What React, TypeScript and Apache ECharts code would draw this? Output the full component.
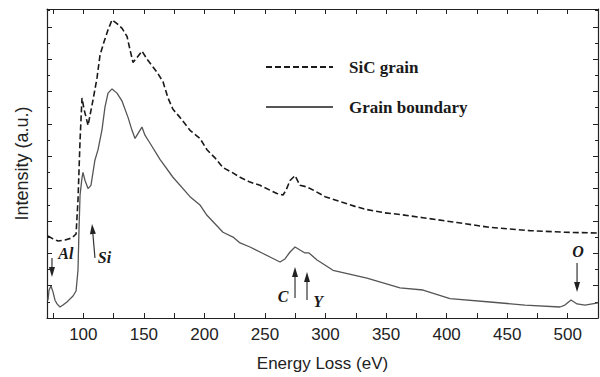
import React, { useEffect, useRef } from "react";
import * as echarts from "echarts";

// SiC grain spectrum (dashed)
const sicEnergy = [70.8, 75.0, 79.1, 84.9, 90.6, 94.0, 95.6, 97.3, 98.9, 100.6, 103.9, 108.0, 111.3, 113.8, 117.1, 120.4, 123.7, 127.8, 132.0, 136.1, 138.5, 141.0, 144.3, 148.4, 152.6, 156.7, 160.8, 165.8, 169.9, 174.0, 179.8, 188.1, 196.3, 202.1, 208.7, 215.3, 222.8, 229.4, 237.6, 245.9, 254.1, 259.9, 264.9, 267.4, 270.7, 274.8, 278.9, 284.7, 291.3, 299.6, 311.9, 324.3, 334.2, 349.1, 361.5, 380.5, 408.6, 435.8, 468.8, 497.7, 525.0];
const sicIntensity = [5.07, 4.89, 4.76, 4.82, 4.95, 5.19, 7.3, 11.0, 13.6, 12.9, 11.9, 13.48, 14.84, 16.26, 17.07, 17.81, 18.43, 18.2, 17.9, 17.4, 16.6, 15.8, 16.1, 16.5, 16.0, 15.6, 15.2, 14.6, 13.6, 12.9, 12.4, 11.6, 11.1, 10.4, 9.9, 9.3, 9.0, 8.7, 8.4, 8.2, 7.9, 7.7, 7.6, 7.9, 8.5, 8.8, 8.2, 8.1, 7.85, 7.5, 7.2, 6.9, 6.7, 6.5, 6.4, 6.2, 5.9, 5.6, 5.4, 5.3, 5.25];

// Grain boundary spectrum (solid)
const gbEnergy = [70.8, 71.7, 73.3, 75.0, 76.6, 78.3, 80.7, 83.2, 86.5, 89.0, 91.5, 94.0, 95.6, 96.4, 97.3, 98.9, 99.7, 101.4, 103.9, 106.3, 109.6, 112.1, 115.4, 117.9, 120.4, 123.7, 127.8, 132.0, 136.9, 140.2, 142.7, 145.1, 148.4, 150.9, 155.1, 163.3, 174.0, 188.1, 196.3, 202.1, 215.3, 223.6, 229.4, 237.6, 247.5, 255.8, 262.4, 266.5, 270.7, 274.8, 278.9, 283.0, 286.3, 293.0, 306.2, 334.2, 361.5, 380.5, 402.8, 435.8, 464.7, 493.6, 497.7, 502.7, 507.7, 514.3, 525.0];
const gbIntensity = [1.1, 1.73, 1.98, 1.6, 1.1, 0.87, 0.68, 0.8, 0.99, 1.18, 1.36, 1.67, 2.97, 5.4, 7.6, 8.66, 9.0, 8.5, 8.0, 8.2, 9.77, 10.39, 11.63, 13.05, 13.9, 14.16, 13.9, 13.4, 12.4, 11.6, 11.1, 11.4, 11.8, 11.3, 10.8, 9.8, 8.7, 7.5, 6.99, 6.35, 5.3, 5.0, 4.64, 4.39, 4.02, 3.71, 3.46, 3.65, 4.08, 4.39, 4.2, 4.02, 4.02, 3.59, 2.95, 2.47, 1.86, 1.73, 1.2, 0.99, 0.8, 0.68, 0.8, 1.11, 0.87, 0.8, 0.93];

const seriesNames = ["SiC grain", "Grain boundary"];
const xTickValues = [75, 100, 125, 150, 175, 200, 225, 250, 275, 300, 325, 350, 375, 400, 425, 450, 475, 500];
const xLabelValues = [100, 150, 200, 250, 300, 350, 400, 450, 500];

// Edge annotations (data coordinates): label position and arrow tail -> tip
const edgeLabels = ["Al", "Si", "C", "Y", "O"];
const labelPos = [[85.5, 4.0], [117.5, 3.77], [264.9, 1.3], [293.8, 0.99], [508.5, 4.08]];
const arrowTail = [[74.1, 3.71], [109.6, 3.71], [274.8, 1.24], [284.7, 1.11], [507.7, 3.4]];
const arrowTip = [[74.1, 2.54], [107.2, 5.81], [274.8, 3.15], [284.7, 2.84], [507.7, 1.61]];

const zip = (a: number[], b: number[]) => a.map((v, i) => [v, b[i]]);

export default function App() {
  const ref = useRef<HTMLDivElement>(null);
  useEffect(() => {
    if (!ref.current) return;
    const chart = echarts.init(ref.current, null, { renderer: "svg" });
    const axisColor = "#222";
    const xCommon = {
      type: "value",
      min: 70,
      max: 525,
      splitLine: { show: false },
      axisLine: { show: true, onZero: false, lineStyle: { color: axisColor, width: 1.2 } },
      axisTick: { show: true, inside: true, length: 5, customValues: xTickValues, lineStyle: { color: axisColor } },
    };
    const yCommon = {
      type: "value",
      min: 0,
      max: 19.1,
      interval: 2,
      splitLine: { show: false },
      axisLabel: { show: false },
      axisLine: { show: true, onZero: false, lineStyle: { color: axisColor, width: 1.2 } },
      axisTick: { show: true, inside: true, length: 5, lineStyle: { color: axisColor } },
      minorTick: { show: true, splitNumber: 2, length: 3, lineStyle: { color: axisColor } },
    };
    chart.setOption({
      animation: false,
      backgroundColor: "#fff",
      grid: { left: 47, right: 2, top: 9, bottom: 59, containLabel: false, outerBoundsMode: "none" },
      legend: {
        orient: "vertical",
        left: 260,
        top: 52,
        itemWidth: 67,
        itemHeight: 20,
        itemGap: 20,
        itemStyle: { opacity: 0, borderWidth: 0 },
        textStyle: {
          fontFamily: "Liberation Serif",
          fontWeight: "bold",
          fontSize: 17,
          lineHeight: 20,
          color: "#1a1a1a",
          padding: [0, 0, 0, 11],
        },
        data: seriesNames,
      },
      xAxis: [
        {
          ...xCommon,
          position: "bottom",
          name: "Energy Loss (eV)",
          nameLocation: "middle",
          nameGap: 37,
          nameTextStyle: { fontFamily: "Liberation Sans", fontSize: 17, color: "#222" },
          axisLabel: { show: true, customValues: xLabelValues, margin: 8, fontFamily: "Liberation Sans", fontSize: 17, color: "#222" },
        },
        { ...xCommon, position: "top", axisLabel: { show: false } },
      ],
      yAxis: [
        {
          ...yCommon,
          position: "left",
          name: "Intensity (a.u.)",
          nameLocation: "middle",
          nameGap: 16,
          nameTextStyle: { fontFamily: "Liberation Sans", fontSize: 18, color: "#222" },
        },
        { ...yCommon, position: "right" },
      ],
      series: [
        {
          name: seriesNames[0],
          type: "line",
          symbol: "none",
          data: zip(sicEnergy, sicIntensity),
          lineStyle: { color: "#1a1a1a", width: 1.6, type: [6, 3] },
          itemStyle: { color: "#1a1a1a" },
        },
        {
          name: seriesNames[1],
          type: "line",
          symbol: "none",
          data: zip(gbEnergy, gbIntensity),
          lineStyle: { color: "#555", width: 1.3, type: "solid" },
          itemStyle: { color: "#555" },
        },
      ],
    });

    const px = (p: number[]) => chart.convertToPixel({ gridIndex: 0 }, p) as number[];
    const elements: any[] = [];
    edgeLabels.forEach((lab, i) => {
      const lp = px(labelPos[i]);
      elements.push({
        type: "text",
        x: lp[0],
        y: lp[1],
        style: {
          text: lab,
          fontFamily: "Liberation Serif",
          fontStyle: "italic",
          fontWeight: "bold",
          fontSize: 16,
          fill: "#1a1a1a",
          align: "center",
          verticalAlign: "middle",
        },
      });
      const t = px(arrowTail[i]);
      const h = px(arrowTip[i]);
      const dx = h[0] - t[0];
      const dy = h[1] - t[1];
      const len = Math.sqrt(dx * dx + dy * dy) || 1;
      const ux = dx / len;
      const uy = dy / len;
      const hl = 10;
      const hw = 3;
      const bx = h[0] - ux * hl;
      const by = h[1] - uy * hl;
      elements.push({
        type: "line",
        shape: { x1: t[0], y1: t[1], x2: bx, y2: by },
        style: { stroke: "#333", lineWidth: 1.2 },
      });
      elements.push({
        type: "polygon",
        shape: {
          points: [
            [h[0], h[1]],
            [bx - uy * hw, by + ux * hw],
            [bx + uy * hw, by - ux * hw],
          ],
        },
        style: { fill: "#222" },
      });
    });
    chart.setOption({ graphic: elements });
    return () => chart.dispose();
  }, []);
  return <div ref={ref} style={{ width: 600, height: 377, position: "absolute", left: 0, top: 0 }} />;
}
